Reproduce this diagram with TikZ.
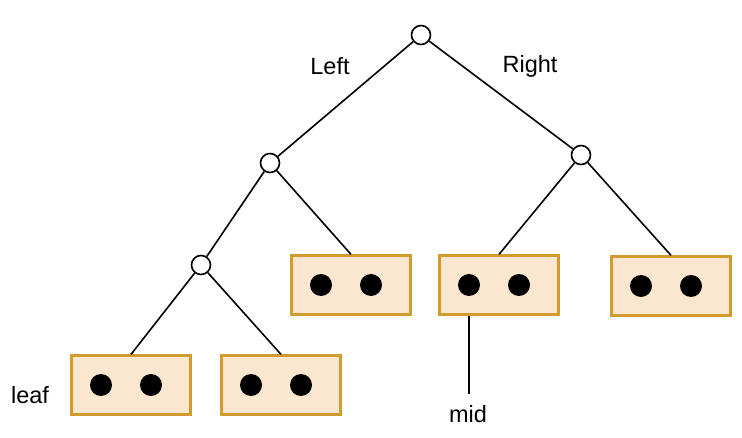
\documentclass[tikz,border=0pt]{standalone}
\usepackage{fontspec}
\setmainfont{Liberation Sans}
\usepackage{xcolor}
\definecolor{boxfill}{HTML}{FBE6CF}
\definecolor{boxline}{HTML}{D29B2E}
\begin{document}
\begin{tikzpicture}[x=1pt,y=-1pt,
  vertex/.style={circle,draw,fill=white,line width=1.6pt,minimum size=19pt,inner sep=0pt},
  leafbox/.style={draw=boxline,fill=boxfill,line width=2.2pt,minimum width=119pt,minimum height=59pt,inner sep=0pt},
  dot/.style={circle,fill=black,minimum size=22pt,inner sep=0pt},
  edge/.style={line width=1.6pt},
  lbl/.style={font=\fontsize{23.5}{27}\selectfont,inner sep=0pt}]
\useasboundingbox (0,0) rectangle (742,438);
% tree
\node[leafbox] (b1) at (131,385) {};
\node[leafbox] (b2) at (281,385) {};
\node[leafbox] (b3) at (351,285) {};
\node[leafbox] (b4) at (499,285) {};
\node[leafbox] (b5) at (671,286) {};
\foreach \b in {b1,b2,b3,b4,b5} {
  \node[dot] (\b-l) at ([xshift=-30pt]\b) {};
  \node[dot] (\b-r) at ([xshift=20pt]\b) {};
}
\node[vertex] (root) at (421,35) {};
\node[vertex] (l) at (270,163) {};
\node[vertex] (r) at (581,155) {};
\node[vertex] (ll) at (201,265) {};
\draw[edge] (root) -- (l);
\draw[edge] (root) -- (r);
\draw[edge] (l) -- (ll);
\draw[edge] (l) -- (b3.north);
\draw[edge] (ll) -- (b1.north);
\draw[edge] (ll) -- (b2.north);
\draw[edge] (r) -- (b4.north);
\draw[edge] (r) -- (b5.north);
% labels
\node[lbl] (leftlbl) at (330,66) {Left};
\node[lbl] (rightlbl) at (530,66) {Right};
\node[lbl] (leaflbl) at (30,395) {leaf};
\node[lbl] (midlbl) at (468,414) {mid};
\coordinate (midend) at (469,394);
\draw[edge] (b4.south -| midend) -- (midend);
\end{tikzpicture}
\end{document}
